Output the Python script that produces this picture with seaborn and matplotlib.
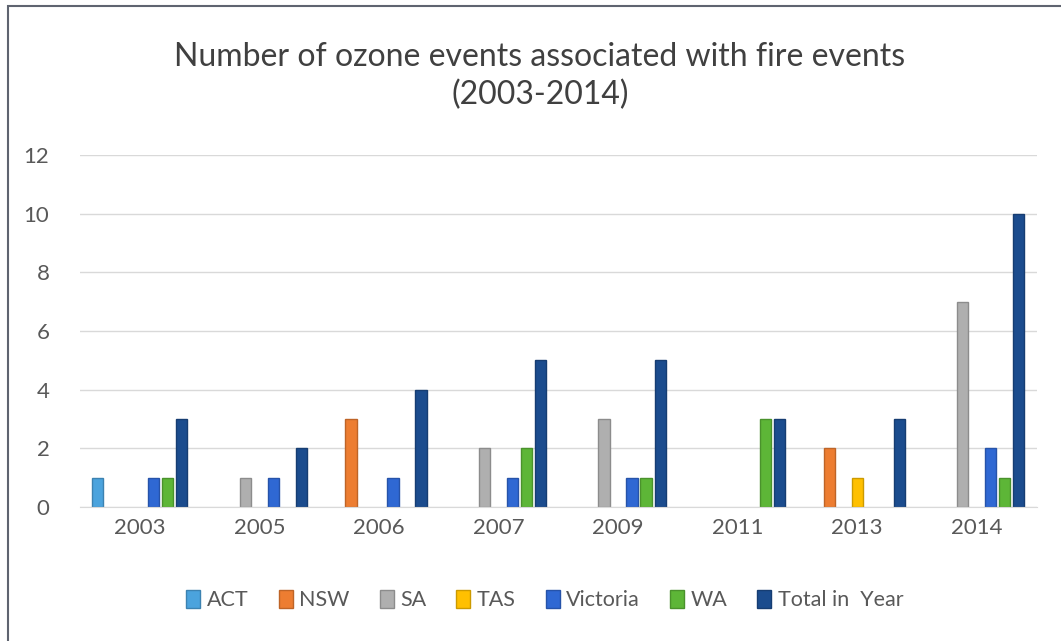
import pandas as pd
import matplotlib.pyplot as plt
import seaborn as sns
from matplotlib.patches import Rectangle
import matplotlib.colors as mcolors

years = ["2003", "2005", "2006", "2007", "2009", "2011", "2013", "2014"]
series = ["ACT", "NSW", "SA", "TAS", "Victoria", "WA", "Total in  Year"]
act = [1, 0, 0, 0, 0, 0, 0, 0]
nsw = [0, 0, 3, 0, 0, 0, 2, 0]
sa = [0, 1, 0, 2, 3, 0, 0, 7]
tas = [0, 0, 0, 0, 0, 0, 1, 0]
victoria = [1, 1, 1, 1, 1, 0, 0, 2]
wa = [1, 0, 0, 2, 1, 3, 0, 1]
total = [3, 2, 4, 5, 5, 3, 3, 10]
colors = ["#4BA3DD", "#ED7D31", "#AFAFAF", "#FFC000", "#2F68D3", "#5DB637", "#1B4C8E"]

values = [act, nsw, sa, tas, victoria, wa, total]
rows = []
for name, vals in zip(series, values):
    for y, v in zip(years, vals):
        rows.append({"Year": y, "State": name, "Events": v})
df = pd.DataFrame(rows)

plt.rcParams['font.family'] = ['Lato', 'DejaVu Sans']
fig = plt.figure(figsize=(10.61, 6.41), dpi=100)
ax = fig.add_axes([0.0754, 0.209, 0.9016, 0.549])

sns.barplot(data=df, x="Year", y="Events", hue="State", order=years, hue_order=series,
            palette=colors, saturation=1, width=0.82, gap=0.2, ax=ax, legend=True)

# darker outline on each bar, like the original; hide zero bars
for container, c in zip(ax.containers, colors):
    dark = [v * 0.8 for v in mcolors.to_rgb(c)]
    for bar in container:
        bar.set_edgecolor(dark)
        bar.set_linewidth(1.0 if bar.get_height() > 0 else 0)

ax.set_ylim(0, 12)
ax.set_yticks(range(0, 13, 2))
ax.set_xlim(-0.5, 7.5)
ax.grid(axis='y', color='#D9D9D9', linewidth=1)
ax.set_axisbelow(True)
for s in ['top', 'right', 'left']:
    ax.spines[s].set_visible(False)
ax.spines['bottom'].set_color('#D9D9D9')
ax.tick_params(length=0, labelsize=16, labelcolor='#595959', pad=8)
ax.tick_params(axis='y', pad=22)
ax.set_xlabel('')
ax.set_ylabel('')

fig.text(0.509, 0.881, 'Number of ozone events associated with fire events\n(2003-2014)',
         ha='center', va='center', fontsize=23, color='#404040', linespacing=1.3)

leg = ax.legend(loc='center', bbox_to_anchor=(0.486, -0.264), ncol=7, frameon=False,
                fontsize=15.5, labelcolor='#595959', handlelength=0.65, handleheight=0.9,
                handletextpad=0.3, columnspacing=1.4)
for h, c in zip(leg.legend_handles, colors):
    h.set_edgecolor([v * 0.8 for v in mcolors.to_rgb(c)])

fig.patches.append(Rectangle((8 / 1061, -0.05), 1.1, 1.04, transform=fig.transFigure,
                             fill=False, edgecolor='#5F6470', linewidth=1.5))

fig.savefig("out.png", dpi=100)
